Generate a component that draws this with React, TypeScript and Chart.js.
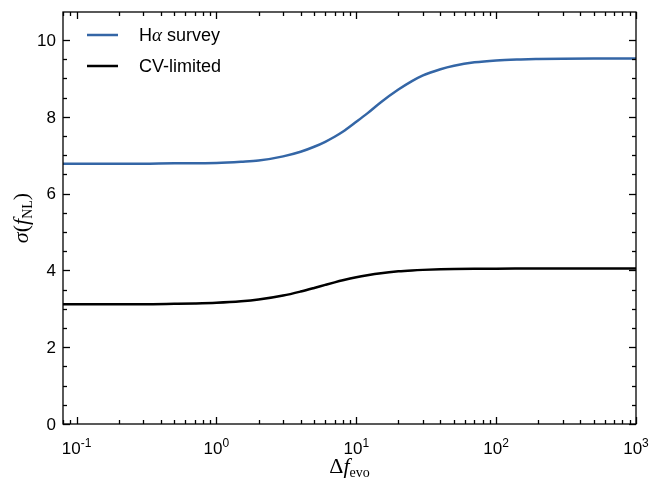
import React, { useEffect, useRef } from 'react';
import { Chart, registerables } from 'chart.js';
Chart.register(...registerables);

// ---- data ----
const xValues = [0.08, 0.1, 0.2, 0.3, 0.5, 0.7, 1, 1.5, 2, 3, 4, 5, 6, 7, 8, 10, 12, 15, 20, 25, 30, 40, 50, 70, 100, 150, 200, 300, 500, 1000];
const haSurvey = [6.78, 6.78, 6.78, 6.78, 6.79, 6.79, 6.8, 6.83, 6.86, 6.97, 7.09, 7.22, 7.35, 7.48, 7.61, 7.87, 8.09, 8.38, 8.71, 8.93, 9.08, 9.24, 9.33, 9.42, 9.47, 9.495, 9.505, 9.515, 9.52, 9.52];
const cvLimited = [3.12, 3.12, 3.12, 3.12, 3.13, 3.139, 3.156, 3.194, 3.24, 3.345, 3.45, 3.543, 3.623, 3.689, 3.743, 3.823, 3.876, 3.929, 3.976, 4.0, 4.014, 4.029, 4.036, 4.042, 4.046, 4.048, 4.049, 4.05, 4.05, 4.05];
const seriesLabels = ['H\u03b1 survey', 'CV-limited'];
const seriesColors = ['#3466a6', '#000000'];

const xMajorTicks = [0.1, 1, 10, 100, 1000];
const xTickExponents = ['-1', '0', '1', '2', '3'];
const xMinorTicks = [0.08, 0.09,
  0.2, 0.3, 0.4, 0.5, 0.6, 0.7, 0.8, 0.9,
  2, 3, 4, 5, 6, 7, 8, 9,
  20, 30, 40, 50, 60, 70, 80, 90,
  200, 300, 400, 500, 600, 700, 800, 900];
const yMajorTicks = [0, 2, 4, 6, 8, 10];
const yMinorTicks = [1, 3, 5, 7, 9, 0.5, 1.5, 2.5, 3.5, 4.5, 5.5, 6.5, 7.5, 8.5, 9.5];

const SANS = '"Liberation Sans", Arial, sans-serif';
const SERIF = '"Liberation Serif", "DejaVu Serif", serif';

function drawRuns(ctx: CanvasRenderingContext2D, runs: { t: string; font: string; dy: number }[], cx: number, baseY: number) {
  let total = 0;
  const widths = runs.map(r => { ctx.font = r.font; const w = ctx.measureText(r.t).width; total += w; return w; });
  let x = cx - total / 2;
  runs.forEach((r, i) => {
    ctx.font = r.font;
    ctx.fillText(r.t, x, baseY + r.dy);
    x += widths[i];
  });
}

const decorPlugin = {
  id: 'decor',
  afterDraw(chart: any) {
    const { ctx, chartArea: a, scales } = chart;
    const xs = scales.x, ys = scales.y;
    ctx.save();
    ctx.strokeStyle = '#000';
    ctx.fillStyle = '#000';
    ctx.lineWidth = 1.3;
    const tick = (x1: number, y1: number, x2: number, y2: number) => {
      ctx.beginPath(); ctx.moveTo(x1, y1); ctx.lineTo(x2, y2); ctx.stroke();
    };
    yMajorTicks.forEach(v => {
      const y = Math.round(ys.getPixelForValue(v)) + 0.5;
      tick(a.left, y, a.left + 7, y); tick(a.right, y, a.right - 7, y);
    });
    yMinorTicks.forEach(v => {
      const y = Math.round(ys.getPixelForValue(v)) + 0.5;
      tick(a.left, y, a.left + 4, y); tick(a.right, y, a.right - 4, y);
    });
    xMajorTicks.forEach(v => {
      const x = Math.round(xs.getPixelForValue(v)) + 0.5;
      tick(x, a.bottom, x, a.bottom - 7); tick(x, a.top, x, a.top + 7);
    });
    xMinorTicks.forEach(v => {
      const x = Math.round(xs.getPixelForValue(v)) + 0.5;
      tick(x, a.bottom, x, a.bottom - 4); tick(x, a.top, x, a.top + 4);
    });
    ctx.strokeRect(a.left, a.top, a.right - a.left, a.bottom - a.top);

    // y labels
    ctx.textAlign = 'right';
    ctx.textBaseline = 'middle';
    ctx.font = `17px ${SANS}`;
    yMajorTicks.forEach(v => {
      ctx.fillText(String(v), a.left - 7, ys.getPixelForValue(v) + 1);
    });
    // x labels
    ctx.textAlign = 'left';
    ctx.textBaseline = 'alphabetic';
    xMajorTicks.forEach((v, i) => {
      const x = xs.getPixelForValue(v);
      drawRuns(ctx, [
        { t: '10', font: `17px ${SANS}`, dy: 0 },
        { t: xTickExponents[i], font: `12px ${SANS}`, dy: -7 },
      ], x, a.bottom + 30);
    });
    // x title
    drawRuns(ctx, [
      { t: '\u0394', font: `22px ${SERIF}`, dy: 0 },
      { t: 'f', font: `italic 22px ${SERIF}`, dy: 0 },
      { t: 'evo', font: `14px ${SERIF}`, dy: 4 },
    ], (a.left + a.right) / 2, a.bottom + 49);
    // y title
    ctx.save();
    ctx.translate(28, (a.top + a.bottom) / 2);
    ctx.rotate(-Math.PI / 2);
    drawRuns(ctx, [
      { t: '\u03c3', font: `italic 22px ${SERIF}`, dy: 0 },
      { t: '(', font: `22px ${SERIF}`, dy: 0 },
      { t: 'f', font: `italic 22px ${SERIF}`, dy: 0 },
      { t: 'NL', font: `14px ${SERIF}`, dy: 4 },
      { t: ')', font: `22px ${SERIF}`, dy: 0 },
    ], 0, 0);
    ctx.restore();

    // legend
    const rows = [35, 66];
    rows.forEach((ry, i) => {
      ctx.strokeStyle = seriesColors[i];
      ctx.lineWidth = 2.5;
      ctx.beginPath(); ctx.moveTo(87, ry); ctx.lineTo(118, ry); ctx.stroke();
      ctx.fillStyle = '#000';
      ctx.textBaseline = 'middle';
      ctx.textAlign = 'left';
      if (i === 0) {
        let x = 139;
        ctx.font = `18px ${SANS}`;
        ctx.fillText('H', x, ry + 1); x += ctx.measureText('H').width;
        ctx.font = `italic 19px ${SERIF}`;
        ctx.fillText('\u03b1', x, ry + 1); x += ctx.measureText('\u03b1').width;
        ctx.font = `18px ${SANS}`;
        ctx.fillText(' survey', x, ry + 1);
      } else {
        ctx.font = `18px ${SANS}`;
        ctx.fillText(seriesLabels[i], 139, ry + 1);
      }
    });
    ctx.restore();
  },
};

export default function App() {
  const ref = useRef<HTMLCanvasElement | null>(null);
  useEffect(() => {
    if (!ref.current) return;
    const chart = new Chart(ref.current, {
      type: 'line',
      data: {
        datasets: [
          {
            label: seriesLabels[0],
            data: xValues.map((x, i) => ({ x, y: haSurvey[i] })),
            borderColor: seriesColors[0],
            borderWidth: 2.5,
            pointRadius: 0,
            cubicInterpolationMode: 'monotone',
          },
          {
            label: seriesLabels[1],
            data: xValues.map((x, i) => ({ x, y: cvLimited[i] })),
            borderColor: seriesColors[1],
            borderWidth: 2.5,
            pointRadius: 0,
            cubicInterpolationMode: 'monotone',
          },
        ],
      },
      options: {
        animation: false,
        responsive: true,
        maintainAspectRatio: false,
        layout: { padding: { top: 12, right: 13, left: 0, bottom: 0 } },
        plugins: { legend: { display: false }, tooltip: { enabled: false } },
        scales: {
          x: {
            type: 'logarithmic',
            min: 0.08,
            max: 1000,
            grid: { display: false },
            border: { display: false },
            ticks: { display: false },
            afterFit: (s: any) => { s.height = 61; },
          },
          y: {
            type: 'linear',
            min: 0,
            max: 10.73,
            grid: { display: false },
            border: { display: false },
            ticks: { display: false },
            afterFit: (s: any) => { s.width = 63; },
          },
        },
      },
      plugins: [decorPlugin],
    } as any);
    return () => chart.destroy();
  }, []);
  return (
    <div style={{ position: 'fixed', left: 0, top: 0, width: 649, height: 485, background: '#fff' }}>
      <canvas ref={ref} />
    </div>
  );
}
